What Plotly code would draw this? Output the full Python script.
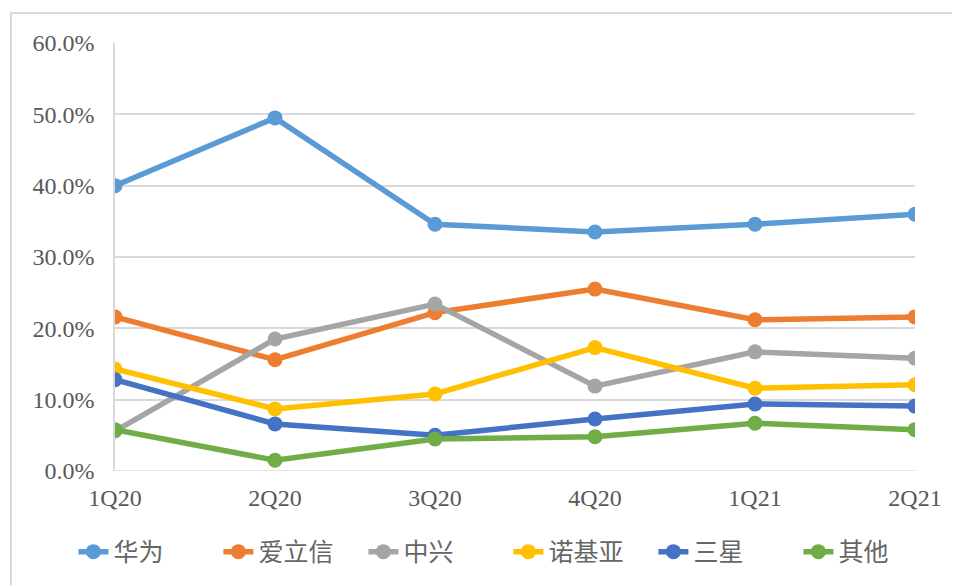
import plotly.graph_objects as go

quarters = ["1Q20", "2Q20", "3Q20", "4Q20", "1Q21", "2Q21"]
huawei = [40.0, 49.5, 34.6, 33.5, 34.6, 36.0]
ericsson = [21.6, 15.6, 22.2, 25.5, 21.2, 21.6]
zte = [5.6, 18.5, 23.4, 11.9, 16.7, 15.8]
nokia = [14.3, 8.7, 10.8, 17.3, 11.6, 12.1]
samsung = [12.8, 6.6, 5.0, 7.3, 9.4, 9.1]
others = [5.8, 1.5, 4.5, 4.8, 6.7, 5.8]

series = [
    ("华为", huawei, "#5B9BD5"),
    ("爱立信", ericsson, "#ED7D31"),
    ("中兴", zte, "#A5A5A5"),
    ("诺基亚", nokia, "#FFC000"),
    ("三星", samsung, "#4472C4"),
    ("其他", others, "#70AD47"),
]

fig = go.Figure()
for name, vals, color in series:
    fig.add_trace(go.Scatter(
        x=quarters, y=vals, name=name, mode="lines+markers",
        line=dict(color=color, width=5.5),
        marker=dict(color=color, size=15),
    ))

fig.update_layout(
    width=960, height=585,
    margin=dict(l=107, r=53, t=35, b=122, autoexpand=False),
    paper_bgcolor="white", plot_bgcolor="white",
    showlegend=True,
    legend=dict(
        orientation="h", x=-0.052, xanchor="left", y=-0.189, yanchor="middle",
        font=dict(family="Noto Sans CJK SC", size=25, color="#666666"),
        itemwidth=30, entrywidth=100, entrywidthmode="pixels",
    ),
    xaxis=dict(
        type="category", range=[0, 5], showgrid=False,
        showline=False, zeroline=False, ticks="", automargin=False,
        tickfont=dict(family="Liberation Serif", size=24, color="#595959"),
        ticklabelstandoff=10,
    ),
    yaxis=dict(
        range=[0, 60], dtick=10, tickformat=".1f", ticksuffix="%",
        showgrid=True, gridcolor="#D9D9D9", gridwidth=1.5, automargin=False,
        zeroline=False, showline=True, linecolor="#D9D9D9", linewidth=1.5,
        ticks="", ticklabelstandoff=14,
        tickfont=dict(family="Liberation Serif", size=24, color="#595959"),
    ),
    shapes=[
        dict(type="rect", xref="paper", yref="paper",
             x0=-0.13, x1=1.2, y0=-0.5, y1=1.07,
             line=dict(color="#D9D9D9", width=2), fillcolor="rgba(0,0,0,0)", layer="below"),
        dict(type="line", xref="paper", yref="y", x0=0, x1=1, y0=0, y1=0,
             line=dict(color="#D9D9D9", width=1.5), layer="below"),
    ],
)

fig.write_html("out.html")
